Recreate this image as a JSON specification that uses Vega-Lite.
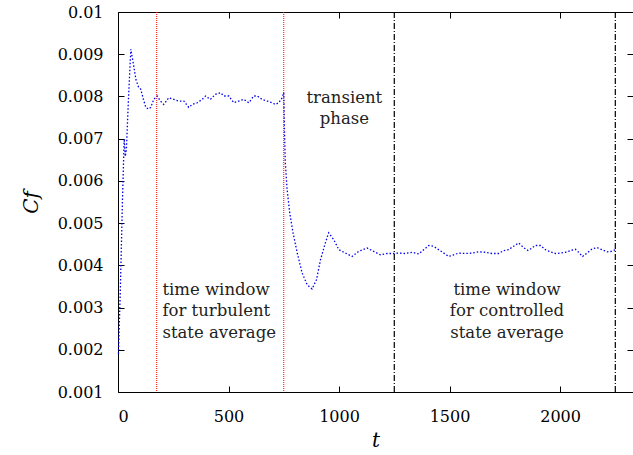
{
  "$schema": "https://vega.github.io/schema/vega-lite/v6.json",
  "autosize": "none",
  "width": 515,
  "height": 380,
  "padding": {"left": 118, "top": 12, "right": 0, "bottom": 63},
  "background": "white",
  "config": {
    "view": {"stroke": "black", "strokeWidth": 1},
    "font": "DejaVu Serif",
    "axis": {
      "domain": false, "grid": false, "tickColor": "black", "tickSize": -6, "tickWidth": 1,
      "labelFont": "DejaVu Serif", "labelFontSize": 16, "labelColor": "black",
      "titleFont": "DejaVu Serif", "titleFontSize": 20, "titleFontWeight": "normal",
      "titleFontStyle": "italic", "titleColor": "black"
    }
  },
  "datasets": {
    "cf": [
      {"t": 2, "cf": 0.0019}, {"t": 11, "cf": 0.0035}, {"t": 20, "cf": 0.0055}, {"t": 28, "cf": 0.0070},
      {"t": 33, "cf": 0.00658}, {"t": 38, "cf": 0.00675}, {"t": 47, "cf": 0.0079}, {"t": 58, "cf": 0.00912},
      {"t": 70, "cf": 0.00876}, {"t": 81, "cf": 0.0084}, {"t": 93, "cf": 0.00822}, {"t": 103, "cf": 0.00817},
      {"t": 115, "cf": 0.00793}, {"t": 126, "cf": 0.00774}, {"t": 138, "cf": 0.0077}, {"t": 148, "cf": 0.00774},
      {"t": 162, "cf": 0.00793}, {"t": 177, "cf": 0.00801}, {"t": 192, "cf": 0.00789}, {"t": 207, "cf": 0.00781},
      {"t": 230, "cf": 0.00797}, {"t": 252, "cf": 0.00793}, {"t": 275, "cf": 0.00789}, {"t": 298, "cf": 0.00789},
      {"t": 320, "cf": 0.00774}, {"t": 336, "cf": 0.00781}, {"t": 358, "cf": 0.00785}, {"t": 381, "cf": 0.00793},
      {"t": 396, "cf": 0.00801}, {"t": 418, "cf": 0.00793}, {"t": 441, "cf": 0.00805}, {"t": 464, "cf": 0.00809},
      {"t": 479, "cf": 0.00801}, {"t": 501, "cf": 0.00801}, {"t": 524, "cf": 0.00785}, {"t": 546, "cf": 0.00789},
      {"t": 569, "cf": 0.00793}, {"t": 592, "cf": 0.00785}, {"t": 614, "cf": 0.00801}, {"t": 630, "cf": 0.00801},
      {"t": 652, "cf": 0.00793}, {"t": 675, "cf": 0.00789}, {"t": 697, "cf": 0.00785}, {"t": 712, "cf": 0.00781},
      {"t": 727, "cf": 0.00785}, {"t": 743, "cf": 0.00797}, {"t": 750, "cf": 0.00809},
      {"t": 753, "cf": 0.00722}, {"t": 757, "cf": 0.00643}, {"t": 765, "cf": 0.0058}, {"t": 777, "cf": 0.00524},
      {"t": 792, "cf": 0.00477}, {"t": 811, "cf": 0.00429}, {"t": 833, "cf": 0.00382}, {"t": 856, "cf": 0.00354},
      {"t": 878, "cf": 0.00344}, {"t": 898, "cf": 0.00366}, {"t": 916, "cf": 0.00413}, {"t": 938, "cf": 0.00453},
      {"t": 953, "cf": 0.00477}, {"t": 976, "cf": 0.00461}, {"t": 999, "cf": 0.00437}, {"t": 1029, "cf": 0.00429},
      {"t": 1059, "cf": 0.00421}, {"t": 1089, "cf": 0.00433}, {"t": 1127, "cf": 0.00441}, {"t": 1157, "cf": 0.00433},
      {"t": 1187, "cf": 0.00425}, {"t": 1218, "cf": 0.00428}, {"t": 1247, "cf": 0.00428}, {"t": 1270, "cf": 0.00429},
      {"t": 1300, "cf": 0.00428}, {"t": 1331, "cf": 0.00431}, {"t": 1361, "cf": 0.00427}, {"t": 1383, "cf": 0.00437},
      {"t": 1406, "cf": 0.00447}, {"t": 1428, "cf": 0.00445}, {"t": 1451, "cf": 0.00437}, {"t": 1474, "cf": 0.00429},
      {"t": 1496, "cf": 0.00421}, {"t": 1519, "cf": 0.00425}, {"t": 1541, "cf": 0.00429}, {"t": 1572, "cf": 0.00428},
      {"t": 1602, "cf": 0.00429}, {"t": 1632, "cf": 0.00432}, {"t": 1662, "cf": 0.00431}, {"t": 1692, "cf": 0.00428},
      {"t": 1722, "cf": 0.00428}, {"t": 1745, "cf": 0.00435}, {"t": 1768, "cf": 0.00437}, {"t": 1783, "cf": 0.00443},
      {"t": 1813, "cf": 0.00453}, {"t": 1835, "cf": 0.00442}, {"t": 1855, "cf": 0.00435}, {"t": 1873, "cf": 0.00441},
      {"t": 1888, "cf": 0.00447}, {"t": 1911, "cf": 0.00447}, {"t": 1934, "cf": 0.00437}, {"t": 1956, "cf": 0.00432},
      {"t": 1979, "cf": 0.00428}, {"t": 2001, "cf": 0.00429}, {"t": 2024, "cf": 0.00431}, {"t": 2047, "cf": 0.00435},
      {"t": 2069, "cf": 0.00438}, {"t": 2084, "cf": 0.00431}, {"t": 2102, "cf": 0.00421}, {"t": 2122, "cf": 0.00429},
      {"t": 2145, "cf": 0.00439}, {"t": 2167, "cf": 0.00442}, {"t": 2190, "cf": 0.00437}, {"t": 2213, "cf": 0.00432},
      {"t": 2232, "cf": 0.00433}, {"t": 2250, "cf": 0.00437}
    ],
    "windows": [
      {"t": 175, "kind": "turbulent"}, {"t": 750, "kind": "turbulent"},
      {"t": 1250, "kind": "controlled"}, {"t": 2250, "kind": "controlled"}
    ],
    "leftlabels": [
      {"t": 201, "cf": 0.0033, "label": ["time window", "for turbulent", "state average"]}
    ],
    "centerlabels": [
      {"t": 1024, "cf": 0.00785, "label": ["transient", "phase"]},
      {"t": 1760, "cf": 0.0033, "label": ["time window", "for controlled", "state average"]}
    ]
  },
  "resolve": {"axis": {"x": "independent", "y": "independent"}},
  "layer": [
    {
      "data": {"name": "windows"},
      "transform": [{"filter": "datum.kind == 'turbulent'"}],
      "mark": {"type": "rule", "color": "#ff0000", "strokeDash": [1, 1], "strokeWidth": 1},
      "encoding": {
        "x": {"field": "t", "type": "quantitative",
              "scale": {"domain": [0, 2330], "nice": false, "zero": false},
              "axis": {"orient": "top", "labels": false, "title": null, "values": [0, 500, 1000, 1500, 2000]}}
      }
    },
    {
      "data": {"name": "windows"},
      "transform": [{"filter": "datum.kind == 'controlled'"}],
      "mark": {"type": "rule", "color": "#000000", "strokeDash": [6, 2, 1, 2], "strokeWidth": 1.2},
      "encoding": {
        "x": {"field": "t", "type": "quantitative",
              "scale": {"domain": [0, 2330], "nice": false, "zero": false}, "axis": null}
      }
    },
    {
      "data": {"name": "cf"},
      "mark": {"type": "line", "color": "#0000ee", "strokeDash": [1.5, 2], "strokeWidth": 1.3},
      "encoding": {
        "x": {"field": "t", "type": "quantitative",
              "scale": {"domain": [0, 2330], "nice": false, "zero": false},
              "axis": {"orient": "bottom", "title": "t", "format": "d", "values": [0, 500, 1000, 1500, 2000],
                       "labelPadding": 22, "titlePadding": 6}},
        "y": {"field": "cf", "type": "quantitative",
              "scale": {"domain": [0.001, 0.01], "nice": false, "zero": false},
              "axis": {"orient": "left", "title": "Cf", "format": ".3~f",
                       "values": [0.001, 0.002, 0.003, 0.004, 0.005, 0.006, 0.007, 0.008, 0.009, 0.01],
                       "labelPadding": 21, "titlePadding": 16}}
      }
    },
    {
      "data": {"name": "leftlabels"},
      "mark": {"type": "text", "font": "DejaVu Serif", "fontSize": 16.5, "lineHeight": 21.5,
               "baseline": "alphabetic", "align": "left", "color": "#222222"},
      "encoding": {
        "x": {"field": "t", "type": "quantitative",
              "scale": {"domain": [0, 2330], "nice": false, "zero": false}, "axis": null},
        "y": {"field": "cf", "type": "quantitative",
              "scale": {"domain": [0.001, 0.01], "nice": false, "zero": false},
              "axis": {"orient": "right", "labels": false, "title": null,
                       "values": [0.001, 0.002, 0.003, 0.004, 0.005, 0.006, 0.007, 0.008, 0.009, 0.01]}},
        "text": {"field": "label"}
      }
    },
    {
      "data": {"name": "centerlabels"},
      "mark": {"type": "text", "font": "DejaVu Serif", "fontSize": 16.5, "lineHeight": 21.5,
               "baseline": "alphabetic", "align": "center", "color": "#222222"},
      "encoding": {
        "x": {"field": "t", "type": "quantitative",
              "scale": {"domain": [0, 2330], "nice": false, "zero": false}, "axis": null},
        "y": {"field": "cf", "type": "quantitative",
              "scale": {"domain": [0.001, 0.01], "nice": false, "zero": false}, "axis": null},
        "text": {"field": "label"}
      }
    }
  ]
}
